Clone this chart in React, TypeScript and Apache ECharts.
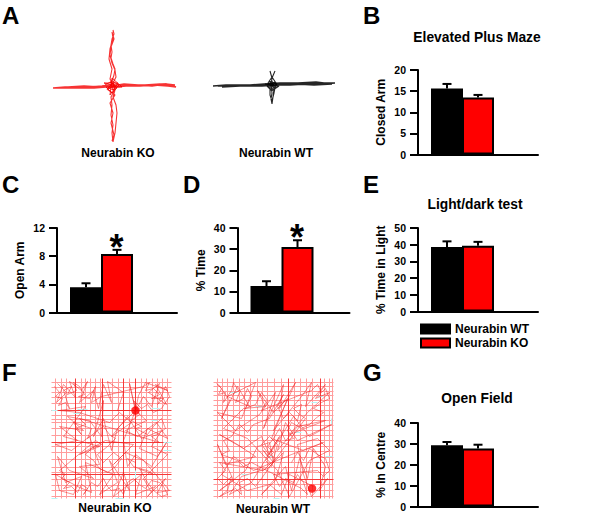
import React, { useEffect, useRef } from "react";
import * as echarts from "echarts";

const FONT = '"Liberation Sans", Arial, sans-serif';
const RED = "#ff0000";
const BLACK = "#000000";

const groupNames = ["Neurabin WT", "Neurabin KO"];
const barSlots = [1, 2];

const closedArmValues = [15.6, 13.5];
const closedArmErrors = [1.1, 0.6];
const openArmValues = [3.6, 8.3];
const openArmErrors = [0.55, 0.6];
const timeValues = [12.5, 31];
const timeErrors = [2.3, 3.2];
const lightValues = [38.6, 39.4];
const lightErrors = [3.4, 2.3];
const centreValues = [29.4, 27.8];
const centreErrors = [1.5, 1.8];

// Elevated plus maze tracks (Neurabin KO)
const mazeKoHorizontal = [[3,63],[15,62],[28,62],[40,62],[52,61],[60,60],[68,60],[80,60],[95,60],[110,59],[120,60],[126,62],[118,61],[104,60],[90,61],[76,61],[66,62],[56,62],[44,63],[30,63],[16,63],[5,63],[18,62],[34,61],[50,62],[62,61],[74,59],[88,60],[102,61],[116,59],[125,60]];
const mazeKoVertical = [[63,5],[64,9],[62,14],[61,20],[62,27],[61,33],[63,39],[65,44],[64,50],[62,56],[61,60],[64,66],[61,72],[62,80],[61,90],[63,100],[62,108],[63,117],[65,108],[66,98],[67,88],[66,80],[63,72],[65,65],[63,58],[66,52],[65,45],[62,38],[60,30],[61,22],[64,14],[62,7],[63,13],[60,24],[59,34],[62,44],[60,54],[64,61],[57,64],[65,70],[60,78],[63,88],[61,98],[64,110],[62,116]];
const mazeKoCentre = [[55,60],[62,56],[69,60],[64,65],[58,63],[63,58],[67,63],[62,68],[56,62],[72,62],[62,53],[60,70],[68,58],[54,58],[62,60],[66,62],[60,57],[64,59]];

// Elevated plus maze tracks (Neurabin WT)
const mazeWtHorizontal = [[3,21],[16,20],[30,20],[44,20],[56,20],[66,19],[80,19],[96,18],[112,18],[125,18],[112,19],[96,19],[80,20],[66,20],[52,21],[38,21],[22,21],[8,21],[24,20],[40,20],[54,19],[70,18],[88,18],[106,17],[122,19],[104,20],[86,19],[70,20],[50,20],[30,21],[12,22]];
const mazeWtVertical = [[60,6],[62,13],[65,6],[62,13],[61,20],[62,28],[61,34],[62,39],[63,32],[64,24],[62,16],[60,22],[60,30],[62,36],[64,28],[66,18],[62,12],[58,18],[64,22],[60,17],[66,22],[57,21],[62,26],[67,19],[59,16],[62,20],[55,19],[69,21],[63,25],[60,19],[65,17],[61,24]];

// Open field panel F (Neurabin KO): beam lines and tracks
const koBeamsV = [4,10,15,30,34,39,44,49,61,67,78,90,95,101,106,111,116];
const koBeamsVStrong = [24,51,72,84];
const koBeamsH = [4,9,14,19,25,37,41,44,50,57,68,74,81,89,94,101,107,112,118];
const koBeamsHStrong = [32,64,96];
const koTrack = [[6,5],[15,14],[5,24],[12,6],[24,19],[18,3],[30,12],[36,3],[28,24],[42,12],[47,30],[52,6],[60,24],[56,3],[72,14],[66,32],[84,32],[78,5],[84,32],[92,18],[100,28],[108,5],[97,14],[115,26],[104,6],[116,12],[94,4],[87,17],[84,32],[95,42],[74,52],[86,58],[105,44],[116,60],[96,50],[88,70],[106,78],[115,64],[100,88],[84,76],[76,88],[72,62],[84,32],[66,50],[60,72],[52,40],[42,58],[52,22],[50,58],[38,42],[16,38],[32,52],[8,48],[26,62],[4,66],[20,72],[38,58],[48,86],[28,88],[42,100],[18,92],[6,78],[14,104],[30,98],[22,116],[8,112],[4,96],[26,108],[40,114],[34,84],[62,96],[48,116],[66,104],[58,82],[78,112],[72,94],[62,118],[90,96],[84,116],[104,108],[96,118],[114,100],[106,114],[118,112],[92,82],[74,74],[62,86],[82,66],[54,62],[28,76],[48,68],[12,58],[34,28],[8,32],[28,34],[58,44],[68,34],[80,44],[60,58],[76,38],[90,60],[110,52],[100,68],[116,76],[92,100],[100,114]];
const koTangle = [[3,8],[8,14],[4,18],[11,20],[7,27],[14,24],[18,30],[12,12],[20,8],[16,16],[25,12],[22,4],[28,8],[33,16],[27,18],[38,20],[44,8],[40,24],[50,18],[92,8],[98,4],[94,12],[102,10],[108,16],[100,20],[112,20],[106,26],[114,8],[118,18],[110,30],[102,34],[96,26],[90,30],[82,22],[88,36],[80,42],[90,48],[84,50],[96,56],[102,48],[110,40],[114,50],[106,56],[100,58],[108,64],[28,40],[34,46],[24,50],[30,56],[22,44],[40,50],[36,60],[46,52],[52,48],[58,56],[64,60],[56,68],[46,76],[52,84],[62,74],[70,80],[64,88],[56,94],[48,90],[42,82],[34,76],[40,70],[50,66],[44,62],[8,92],[14,96],[10,100],[18,104],[12,110],[20,108],[26,114],[30,106],[36,110],[32,116],[40,104],[46,108],[52,100],[56,108],[60,112],[68,110],[72,116],[76,104],[82,100],[88,106],[94,110],[100,102],[108,104],[112,108],[116,116],[110,118],[102,112],[96,104],[88,90],[96,92],[102,96],[82,88],[76,80],[84,84]];
const koCyan = [[0,32],[6,32],["-","-"],[22,35],[30,35],["-","-"],[26,31],[36,31],["-","-"],[112,64],[120,64],["-","-"],[112,72],[120,72],["-","-"],[64,120],[72,120],["-","-"],[100,42],[106,42],["-","-"],[100,30],[108,30],["-","-"],[0,120],[6,120],["-","-"],[84,92],[84,100]];

// Open field panel F (Neurabin WT): beam lines and tracks
const wtBeamsV = [4,9,14,20,26,31,37,44,49,54,61,68,81,87,93,99,111,116,119];
const wtBeamsVStrong = [75,107];
const wtBeamsH = [4,8,13,17,22,27,32,37,42,47,52,57,62,68,73,79,84,89,94,106,112,118];
const wtBeamsHStrong = [101];
const wtTrack = [[5,6],[16,22],[8,40],[24,8],[36,28],[14,18],[42,4],[28,40],[4,34],[22,52],[46,36],[62,14],[50,50],[70,6],[66,30],[82,4],[60,52],[88,18],[98,4],[92,28],[112,6],[102,20],[116,14],[94,34],[76,56],[112,42],[84,48],[64,72],[72,44],[84,62],[118,46],[96,58],[80,38],[56,76],[48,58],[30,70],[6,56],[24,66],[42,78],[12,86],[4,66],[20,102],[6,112],[32,92],[44,68],[56,64],[60,84],[50,72],[54,78],[66,58],[38,104],[16,116],[28,98],[54,90],[70,74],[62,102],[48,116],[72,88],[78,112],[86,80],[94,100],[100,70],[112,88],[106,112],[114,100],[98,118],[90,96],[84,66],[104,60],[116,72],[96,82],[76,118],[64,92],[34,60],[10,50],[30,30],[52,28],[44,12],[60,34],[74,20],[58,60],[90,72],[110,64],[78,76],[40,92],[20,78],[8,96],[34,112],[56,106],[68,116],[76,96],[100,108]];
const wtTangle = [[3,5],[8,10],[5,16],[12,14],[10,24],[18,12],[20,4],[26,14],[22,24],[30,20],[34,10],[38,18],[32,30],[42,26],[48,14],[54,22],[48,32],[98,12],[104,6],[108,14],[112,10],[116,20],[108,24],[100,30],[110,34],[102,40],[96,46],[88,50],[78,44],[74,52],[80,60],[72,62],[66,50],[60,60],[54,68],[60,74],[52,82],[58,88],[64,66],[56,58],[48,66],[54,74],[62,80],[50,92],[6,84],[12,92],[4,100],[10,106],[18,98],[14,112],[6,118],[22,110],[28,116],[26,104],[34,100],[42,108],[92,40],[86,36],[80,30],[88,26],[84,42],[76,34],[70,40],[64,28],[70,16],[56,40],[40,46],[34,54],[26,46],[18,58],[10,62],[16,72],[8,76],[24,82],[30,88],[38,84],[88,110],[94,116],[90,104],[84,96],[80,104],[72,100],[66,108],[60,96],[104,92],[110,98],[116,92],[112,80],[104,76],[96,70],[90,82],[84,74],[78,84]];
const wtCyan = [[16,14],[24,14],["-","-"],[42,28],[50,28],["-","-"],[98,24],[104,24],["-","-"],[82,54],[88,54],["-","-"],[112,78],[119,78],["-","-"],[104,18],[110,18],["-","-"],[54,78],[60,78],["-","-"],[28,96],[34,96],["-","-"],[60,120],[66,120],["-","-"],[118,40],[118,46]];
const koStart = [[84, 32]];
const wtStart = [[98.5, 110]];

const beamPath = (vs: number[], hs: number[]) => [
  ...vs.flatMap((v) => [[v, 0], [v, 120], ["-", "-"]]),
  ...hs.flatMap((h) => [[0, h], [120, h], ["-", "-"]]),
];

const barPanels = [
  { name: "Closed Arm", max: 20, step: 5, values: closedArmValues, errors: closedArmErrors, left: 418, top: 70, width: 120, height: 84.5 },
  { name: "Open Arm", max: 12, step: 4, values: openArmValues, errors: openArmErrors, left: 57, top: 228, width: 120, height: 84.5 },
  { name: "% Time", max: 40, step: 10, values: timeValues, errors: timeErrors, left: 237.5, top: 228, width: 112, height: 84.5 },
  { name: "% Time in Light", max: 50, step: 10, values: lightValues, errors: lightErrors, left: 418, top: 228, width: 120, height: 83.5 },
  { name: "% In Centre", max: 40, step: 10, values: centreValues, errors: centreErrors, left: 418, top: 423, width: 120, height: 83.5 },
];

const trackPanels = [
  { left: 50, top: 25, width: 130, height: 122, color: "rgba(245,0,0,0.8)", lines: [{ data: mazeKoHorizontal, width: 1.5 }, { data: mazeKoVertical, width: 1.1 }, { data: mazeKoCentre, width: 1 }] },
  { left: 210, top: 65, width: 130, height: 45, color: "rgba(0,0,0,0.85)", lines: [{ data: mazeWtHorizontal, width: 1.5 }, { data: mazeWtVertical, width: 1.1 }] },
];

const fieldPanels = [
  { left: 51.5, top: 378.5, vs: koBeamsV, hs: koBeamsH, vsStrong: koBeamsVStrong, hsStrong: koBeamsHStrong, tracks: [koTrack, koTangle], cyan: koCyan, start: koStart },
  { left: 213.5, top: 378.5, vs: wtBeamsV, hs: wtBeamsH, vsStrong: wtBeamsVStrong, hsStrong: wtBeamsHStrong, tracks: [wtTrack, wtTangle], cyan: wtCyan, start: wtStart },
];

const headings = [
  { text: "A", x: 2, y: 15, size: 24 },
  { text: "B", x: 363, y: 15, size: 24 },
  { text: "C", x: 2, y: 184, size: 24 },
  { text: "D", x: 183, y: 184, size: 24 },
  { text: "E", x: 363, y: 184, size: 24 },
  { text: "F", x: 2, y: 372, size: 24 },
  { text: "G", x: 363, y: 372, size: 24 },
];
const titles = [
  { text: "Elevated Plus Maze", x: 477, y: 37, size: 13.8 },
  { text: "Light/dark test", x: 475, y: 204, size: 13.8 },
  { text: "Open Field", x: 477, y: 398, size: 13.8 },
];
const captions = [
  { text: "Neurabin KO", x: 118, y: 153 },
  { text: "Neurabin WT", x: 276, y: 153 },
  { text: "Neurabin KO", x: 115, y: 508 },
  { text: "Neurabin WT", x: 273, y: 509 },
];
const stars = [
  { x: 116.5, y: 247 },
  { x: 297, y: 237 },
];

function buildOption() {
  const grid: any[] = [];
  const xAxis: any[] = [];
  const yAxis: any[] = [];
  const series: any[] = [];

  trackPanels.forEach((p) => {
    const i = grid.length;
    grid.push({ left: p.left, top: p.top, width: p.width, height: p.height });
    xAxis.push({ type: "value", gridIndex: i, min: 0, max: p.width, show: false });
    yAxis.push({ type: "value", gridIndex: i, min: 0, max: p.height, inverse: true, show: false });
    p.lines.forEach((line) =>
      series.push({ type: "line", xAxisIndex: i, yAxisIndex: i, data: line.data, showSymbol: false, silent: true, lineStyle: { color: p.color, width: line.width } })
    );
  });

  fieldPanels.forEach((p) => {
    const i = grid.length;
    grid.push({ left: p.left, top: p.top, width: 120, height: 120 });
    xAxis.push({ type: "value", gridIndex: i, min: 0, max: 120, show: false });
    yAxis.push({ type: "value", gridIndex: i, min: 0, max: 120, inverse: true, show: false });
    const base = { type: "line", xAxisIndex: i, yAxisIndex: i, showSymbol: false, silent: true, connectNulls: false };
    series.push({ ...base, data: beamPath(p.vs, p.hs), lineStyle: { color: "#ff9c9c", width: 1 } });
    series.push({ ...base, data: beamPath(p.vsStrong, p.hsStrong), lineStyle: { color: "#f53a3a", width: 1 } });
    series.push({ ...base, data: p.cyan, lineStyle: { color: "#b8f4f4", width: 1 } });
    p.tracks.forEach((t) => series.push({ ...base, data: t, lineStyle: { color: "rgba(240,30,30,0.7)", width: 0.7 } }));
    series.push({ type: "scatter", xAxisIndex: i, yAxisIndex: i, data: p.start, symbolSize: 8.5, itemStyle: { color: RED }, silent: true, z: 5 });
  });

  barPanels.forEach((p) => {
    const i = grid.length;
    const unit = 31;
    const span = p.width / unit;
    grid.push({ left: p.left, top: p.top, width: p.width, height: p.height });
    xAxis.push({
      type: "value", gridIndex: i, min: 1 - 29 / unit, max: 1 - 29 / unit + span,
      axisLine: { show: true, onZero: false, lineStyle: { color: BLACK, width: 2 } },
      axisTick: { show: false }, axisLabel: { show: false }, splitLine: { show: false },
    });
    yAxis.push({
      type: "value", gridIndex: i, min: 0, max: p.max, interval: p.step,
      name: p.name, nameLocation: "middle", nameGap: 31,
      nameTextStyle: { fontFamily: FONT, fontWeight: "bold", fontSize: 12, color: BLACK },
      axisLine: { show: true, lineStyle: { color: BLACK, width: 2 } },
      axisTick: { show: true, length: 8, lineStyle: { color: BLACK, width: 2 } },
      axisLabel: { margin: 12, fontFamily: FONT, fontWeight: "bold", fontSize: 10.5, color: BLACK },
      splitLine: { show: false },
    });
    groupNames.forEach((groupName, g) => {
      series.push({
        type: "bar", name: groupName, xAxisIndex: i, yAxisIndex: i,
        data: [[barSlots[g], p.values[g]]],
        barWidth: 32, barGap: "-100%",
        itemStyle: { color: g === 0 ? BLACK : RED, borderColor: BLACK, borderWidth: 2 },
        silent: true,
      });
    });
    series.push({
      type: "custom", xAxisIndex: i, yAxisIndex: i, silent: true, z: 1,
      data: barSlots.map((s, g) => [s, p.values[g], p.errors[g]]),
      encode: { x: 0, y: 1 },
      renderItem: (_: any, api: any) => {
        const [x, y0] = api.coord([api.value(0), api.value(1)]);
        const [, y1] = api.coord([api.value(0), api.value(1) + api.value(2)]);
        const style = { stroke: BLACK, lineWidth: 2, fill: "none" };
        return {
          type: "group",
          children: [
            { type: "line", shape: { x1: x, y1: y0, x2: x, y2: y1 }, style },
            { type: "line", shape: { x1: x - 4.5, y1, x2: x + 4.5, y2: y1 }, style },
          ],
        };
      },
    });
  });

  const graphicText = (text: string, x: number, y: number, size: number, align = "center") => ({
    type: "text", x, y,
    style: { text, x: 0, y: 0, fill: BLACK, font: `bold ${size}px ${FONT}`, textAlign: align, textVerticalAlign: "middle" },
  });

  return {
    animation: false,
    backgroundColor: "#ffffff",
    grid, xAxis, yAxis, series,
    legend: {
      show: true, orient: "vertical", left: 420, top: 323, itemWidth: 29, itemHeight: 9, itemGap: 2,
      icon: "rect", selectedMode: false, data: groupNames,
      textStyle: { fontFamily: FONT, fontWeight: "bold", fontSize: 12, color: BLACK, padding: [0, 0, 0, 0] },
      padding: 0,
    },
    graphic: [
      ...headings.map((h) => graphicText(h.text, h.x, h.y, h.size, "left")),
      ...titles.map((t) => graphicText(t.text, t.x, t.y, t.size)),
      ...captions.map((c) => graphicText(c.text, c.x, c.y, 12)),
      ...stars.map((s) => graphicText("*", s.x, s.y, 36)),
    ],
  };
}

export default function App() {
  const ref = useRef<HTMLDivElement>(null);
  useEffect(() => {
    document.body.style.margin = "0";
    const chart = echarts.init(ref.current!, undefined, { renderer: "svg" });
    chart.setOption(buildOption() as any);
    return () => chart.dispose();
  }, []);
  return <div ref={ref} style={{ width: 600, height: 529 }} />;
}
